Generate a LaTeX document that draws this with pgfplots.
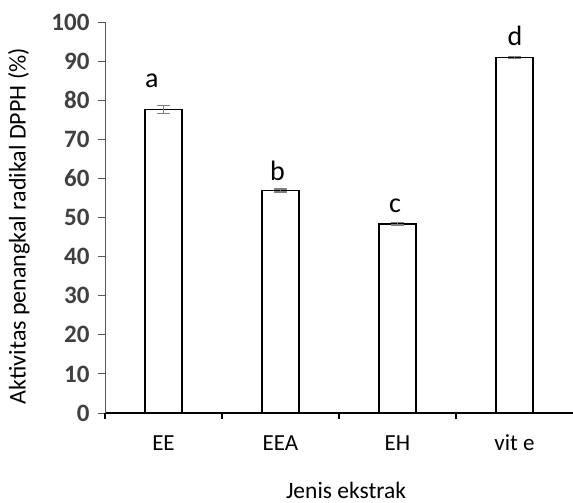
\documentclass[border=0pt]{standalone}
\usepackage{pgfplots}
\pgfplotsset{compat=1.18}
\usepackage{fontspec}
\setmainfont{Carlito}
\definecolor{tickgray}{HTML}{404040}
\definecolor{errgray}{HTML}{7F7F7F}
\definecolor{axgray}{HTML}{595959}
\begin{document}
\begin{tikzpicture}
\begin{axis}[
  name=ax,
  scale only axis,
  width=468bp, height=391bp,
  xmin=-0.5, xmax=3.5,
  ymin=0, ymax=100,
  axis lines=left,
  axis line style={-},
  x axis line style={black, line width=1.6bp},
  y axis line style={axgray, line width=0.9bp},
  ytick={0,10,...,100},
  tick align=outside,
  major tick length=7bp,
  ytick style={axgray, line width=0.9bp},
  y tick label style={font=\fontsize{25bp}{28bp}\selectfont\bfseries, text=tickgray, xshift=-5bp},
  /pgf/number format/assume math mode=true,
  xtick={0,1,2,3},
  xticklabels={EE,EEA,EH,vit e},
  xtick style={draw=none},
  x tick label style={font=\fontsize{23bp}{26bp}\selectfont, anchor=base, yshift=-30bp},
  extra x ticks={-0.5,0.5,1.5,2.5},
  extra x tick labels={},
  extra x tick style={xtick style={draw=black, line width=1.2bp}, major tick length=6bp},
  xlabel={Jenis ekstrak},
  xlabel style={font=\fontsize{23.5bp}{26bp}\selectfont, at={(axis description cs:0.515,-0.218)}, anchor=base},
  ylabel={Aktivitas penangkal radikal DPPH (\%)},
  ylabel style={font=\fontsize{24bp}{26bp}\selectfont, at={(axis description cs:-0.1838,0.478)}, anchor=center, rotate=0},
  ybar, bar width=36.7bp,
  clip=false,
]
\addplot[fill=white, draw=black, line width=1.5bp,
  error bars/.cd, y dir=both, y explicit,
  error bar style={errgray, line width=1.3bp},
  error mark options={rotate=90, mark size=6.3bp, errgray, line width=1.3bp}]
  coordinates {(0,77.6) +- (0,1.0) (1,56.9) +- (0,0.4) (2,48.4) +- (0,0.3) (3,90.9) +- (0,0.2)};
\node[anchor=base, font=\fontsize{28bp}{30bp}\selectfont] at (axis cs:-0.10,83.2) {a};
\node[anchor=base, font=\fontsize{28bp}{30bp}\selectfont] at (axis cs:0.974,59.5) {b};
\node[anchor=base, font=\fontsize{28bp}{30bp}\selectfont] at (axis cs:1.98,51.3) {c};
\node[anchor=base, font=\fontsize{28bp}{30bp}\selectfont] at (axis cs:3.004,94.0) {d};
\end{axis}
\pgfresetboundingbox
\path[use as bounding box] ([shift={(-105bp,-90bp)}]ax.south west) rectangle ([shift={(0bp,22bp)}]ax.north east);
\end{tikzpicture}
\end{document}
